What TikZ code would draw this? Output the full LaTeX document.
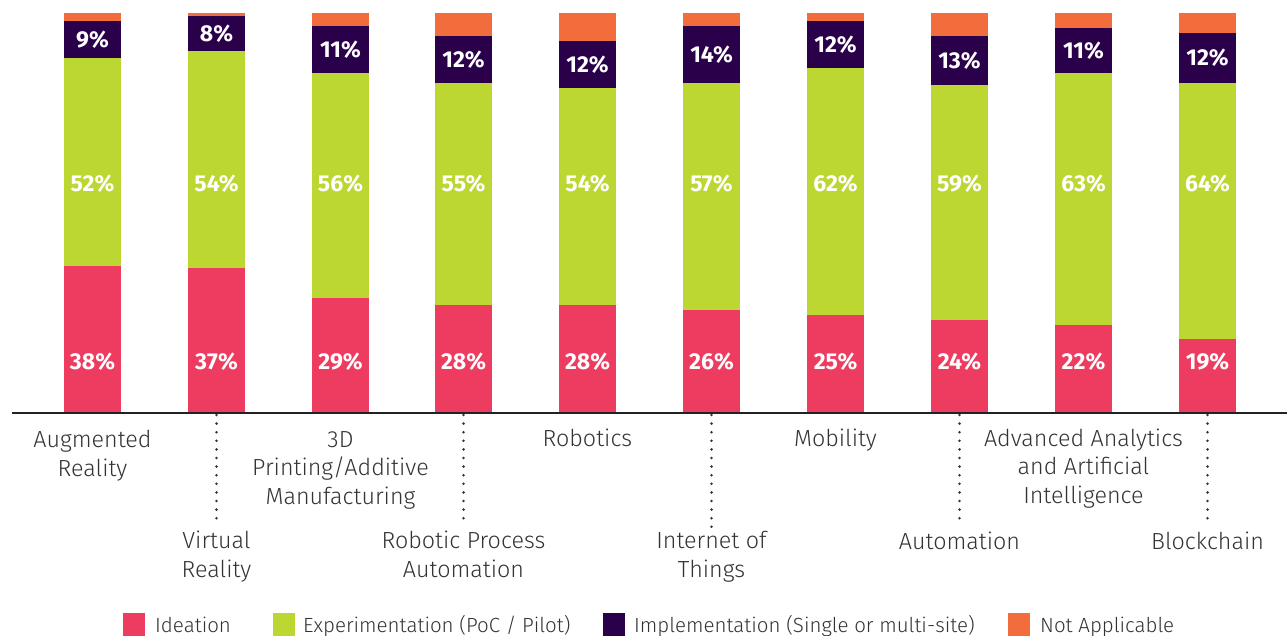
\documentclass[tikz,border=0pt]{standalone}
\usepackage{fontspec}
\setmainfont{Fira Sans}[UprightFont=* Light, BoldFont=* Bold]
\definecolor{cRed}{HTML}{EE3C61}
\definecolor{cGreen}{HTML}{BCD632}
\definecolor{cPurple}{HTML}{2B004B}
\definecolor{cOrange}{HTML}{F26C3C}
\definecolor{cText}{HTML}{333333}
\definecolor{cAxis}{HTML}{222222}
\begin{document}
\begin{tikzpicture}[x=1pt,y=-1pt,
  pct/.style={text=white, font=\fontsize{23}{23}\selectfont\bfseries, inner sep=0pt},
  cat/.style={text=cText, font=\fontsize{23.3}{28.5}\selectfont, align=center, inner sep=0pt, anchor=base},
  dotline/.style={draw=cText, line width=2.8pt, line cap=round, dash pattern=on 0pt off 8.6pt},
  legtx/.style={text=cText, font=\fontsize{20.5}{24}\selectfont, inner sep=0pt, anchor=base west}]
\useasboundingbox (0,0) rectangle (1287,636);
% bars: left x / purple top / green top / red top / impl / exp / ideation
\foreach \x/\p/\g/\r/\a/\b/\c [count=\i] in {
  64/21/58/266/9/52/38,
  188/16/51/268/8/54/37,
  312/26/73/298/11/56/29,
  435/36/83/305/12/55/28,
  559/41/88/305/12/54/28,
  683/26/83/310/14/57/26,
  807/21/68/315/12/62/25,
  931/36/85/320/13/59/24,
  1055/28/73/325/11/63/22,
  1179/33/83/339/12/64/19}{
  \fill[cOrange] (\x,13) rectangle (\x+57,\p);
  \fill[cPurple] (\x,\p) rectangle (\x+57,\g);
  \fill[cGreen] (\x,\g) rectangle (\x+57,\r);
  \fill[cRed] (\x,\r) rectangle (\x+57,413);
  \node[pct] (imp\i) at (\x+28.5,{(\p+\g)/2}) {\a\%};
  \node[pct] (exp\i) at (\x+28.5,184) {\b\%};
  \node[pct] (ide\i) at (\x+28.5,362) {\c\%};
}
% axis
\coordinate (axl) at (12,412.5);
\coordinate (axr) at (1287,412.5);
\draw[cAxis, line width=2pt] (axl) -- (axr);
% dotted leaders
\foreach \xx/\yb [count=\j] in {216.5/521, 463.5/521, 711.5/527, 959.5/521, 1207.5/521}{
  \coordinate (dt\j) at (\xx,415);
  \coordinate (db\j) at (\xx,\yb);
  \draw[dotline] (dt\j) -- (db\j);
}
% category labels (anchor = baseline of the last line)
\node[cat] (c1) at (92.5,476) {Augmented\\Reality};
\node[cat] (c2) at (216.5,577) {Virtual\\Reality};
\node[cat] (c3) at (340.5,504) {3D\\Printing/Additive\\Manufacturing};
\node[cat] (c4) at (463.5,577) {Robotic Process\\Automation};
\node[cat] (c5) at (587.5,446) {Robotics};
\node[cat] (c6) at (711.5,577) {Internet of\\Things};
\node[cat] (c7) at (835.5,446) {Mobility};
\node[cat] (c8) at (959.5,549) {Automation};
\node[cat] (c9) at (1083.5,503) {Advanced Analytics\\and Artificial\\Intelligence};
\node[cat] (c10) at (1207.5,549) {Blockchain};
% legend
\fill[cRed] (123,613) rectangle (145,636);
\node[legtx] (l1) at (155,632) {Ideation};
\fill[cGreen] (273,613) rectangle (295,636);
\node[legtx] (l2) at (303,632) {Experimentation (PoC / Pilot)};
\fill[cPurple] (603,613) rectangle (625,636);
\node[legtx] (l3) at (634,632) {Implementation (Single or multi-site)};
\fill[cOrange] (1008,613) rectangle (1030,636);
\node[legtx] (l4) at (1040,632) {Not Applicable};
\end{tikzpicture}
\end{document}
